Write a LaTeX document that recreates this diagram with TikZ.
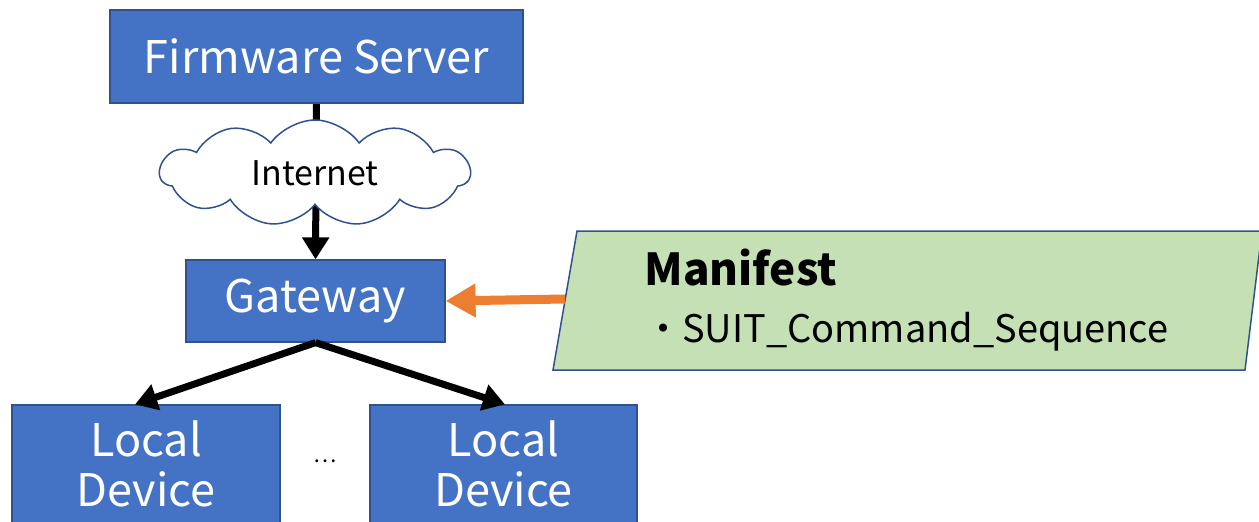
\documentclass[tikz,border=0pt]{standalone}
\usepackage{fontspec}
\setmainfont{Noto Sans CJK JP}
\usetikzlibrary{arrows.meta,shapes.symbols,backgrounds}
\definecolor{boxblue}{HTML}{4472C4}
\definecolor{edgeblue}{HTML}{2F528F}
\definecolor{mgreen}{HTML}{C5E0B4}
\definecolor{orng}{HTML}{ED7D31}
\tikzset{
  bluebox/.style={draw=edgeblue, line width=1.2pt, fill=boxblue, text=white, inner sep=0pt, align=center},
  bigtxt/.style={font=\fontsize{45}{50}\selectfont},
  blackarrow/.style={draw=black, line width=7pt, -{Triangle[length=22pt,width=26pt]}},
  orangearrow/.style={draw=orng, line width=9pt, -{Triangle[length=30pt,width=32pt]}},
}
\begin{document}
\begin{tikzpicture}[x=1pt,y=-1pt]
\useasboundingbox (0,0) rectangle (1259,522);
% boxes
\node[bluebox, bigtxt, minimum width=413pt, minimum height=93pt] (fs) at (316.5,56.5) {Firmware Server};
\node[draw=edgeblue, line width=1.5pt, fill=white, cloud, cloud puffs=11, cloud puff arc=110, aspect=3,
      minimum width=310pt, minimum height=106pt, inner sep=0pt, font=\fontsize{34}{40}\selectfont] (net) at (315,173) {Internet};
\node[bluebox, bigtxt, minimum width=259pt, minimum height=82pt] (gw) at (315.5,301) {Gateway};
\node[bluebox, bigtxt, minimum width=268pt, minimum height=126pt, text depth=8pt] (ld1) at (146,468) {Local\\Device};
\node[bluebox, bigtxt, minimum width=267pt, minimum height=126pt, text depth=8pt] (ld2) at (503.5,468) {Local\\Device};
\node[font=\fontsize{22}{26}\selectfont] (dots) at (325,461) {…};
% manifest
\draw[draw=edgeblue, line width=1.5pt, fill=mgreen] (577,231) -- (1262,231) -- (1245,370) -- (553,370) -- cycle;
\coordinate (mleft) at (565,299);
\node[anchor=base west, font=\bfseries\fontsize{44}{50}\selectfont] (mtitle) at (641,285) {Manifest};
\node[anchor=base west, font=\fontsize{38}{44}\selectfont, inner xsep=0pt] (mitem) at (644,342) {・SUIT\_Command\_Sequence};
% arrows
\begin{scope}[on background layer]
\draw[blackarrow] (fs.south) -- (gw.north);
\end{scope}
\draw[blackarrow] (gw.south) -- (ld1.north -| 135,0);
\draw[blackarrow] (gw.south) -- (ld2.north -| 505,0);
\draw[orangearrow] (mleft) -- (gw.east);
\end{tikzpicture}
\end{document}
